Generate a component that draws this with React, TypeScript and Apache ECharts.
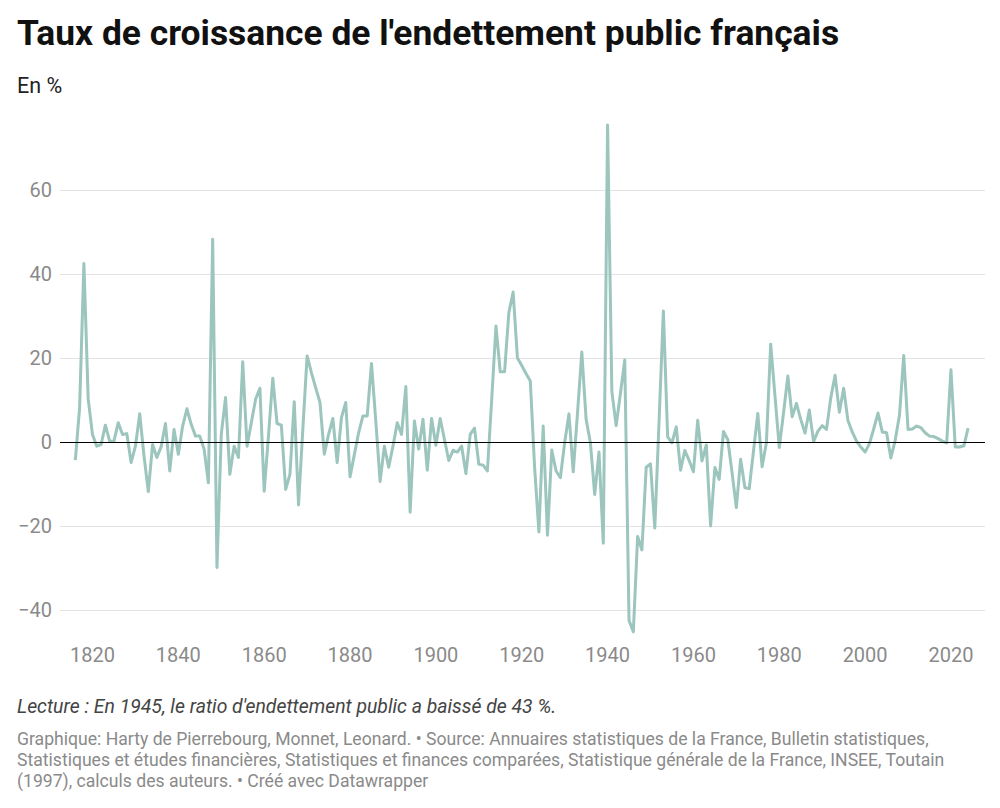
import React, { useEffect, useRef } from "react";
import * as echarts from "echarts";

const title = "Taux de croissance de l'endettement public français";
const subtitle = "En %";
const lecture = "Lecture : En 1945, le ratio d'endettement public a baissé de 43 %.";
const footer = [
  "Graphique: Harty de Pierrebourg, Monnet, Leonard. • Source: Annuaires statistiques de la France, Bulletin statistiques,",
  "Statistiques et études financières, Statistiques et finances comparées, Statistique générale de la France, INSEE, Toutain",
  "(1997), calculs des auteurs. • Créé avec Datawrapper",
];

const firstYear = 1816;
// Yearly growth rate of the public debt ratio, in %
const values1816to1849 = [
  -4.3, 8.2, 42.5, 10.2,
  1.8, -1, -0.6, 4, 0.2, 0.2, 4.6, 1.8, 2, -4.9,
  -1, 6.7, -3.3, -11.8, -0.6, -3.7, -1.1, 4.4, -6.9, 3,
  -2.9, 3.8, 7.9, 4.2, 1.4, 1.4, -1.7, -9.7, 48.3, -29.9,
];
const values1850to1899 = [
  1.8, 10.6, -7.7, -1, -3.7, 19.1, -1, 4.6, 10.2, 12.8,
  -11.7, 1.5, 15.2, 4.4, 4, -11.3, -7.7, 9.6, -15, 3,
  20.5, 16.5, 12.9, 9.4, -2.9, 1.8, 5.6, -4.9, 5.8, 9.4,
  -8.3, -3, 2.2, 6.2, 6.2, 18.7, 5, -9.4, -1, -6,
  -1, 4.6, 1.8, 13.2, -16.7, 5, -1.7, 5.4, -6.7, 5.6,
];
const values1900to1949 = [
  -0.8, 5.6, 0.6, -4.4, -2, -2.4, -1, -7.5, 1.8, 3.3,
  -5.3, -5.5, -6.9, 10, 27.6, 16.7, 16.7, 30.8, 35.7, 20,
  18.2, 16.3, 14.5, -6, -21.4, 3.8, -22.2, -1.9, -6.9, -8.5,
  -0.2, 6.7, -7.1, 7, 21.4, 5.4, -0.2, -12.5, -2.4, -24.1,
  75.5, 12, 3.9, 11.6, 19.5, -42.5, -45.2, -22.5, -25.7, -6,
];
const values1950to1999 = [
  -5.2, -20.5, 5, 31.2, 1.2, -0.2, 3.6, -6.7, -2, -4.4,
  -7.1, 5.2, -4.5, -0.7, -20, -6.1, -8.9, 2.5, 0.6, -7.3,
  -15.6, -4.1, -10.9, -11.1, -2.1, 6.8, -5.9, -0.2, 23.3, 11,
  -1.3, 7, 15.7, 6, 9.2, 5.4, 2.1, 7.6, 0.1, 2.6,
  3.9, 3, 10.5, 15.9, 7.1, 12.8, 5.1, 2.4, 0.2, -1.2,
];
const values2000to2024 = [
  -2.4, -0.4, 3.1, 6.9, 2.4, 2.2, -3.8, 0.4, 6.3, 20.6,
  3, 3.1, 3.8, 3.4, 2.2, 1.4, 1.3, 0.8, 0.2, -0.2,
  17.2, -1.2, -1.2, -0.9, 3.3,
];

const xTickYears = [1820, 1840, 1860, 1880, 1900, 1920, 1940, 1960, 1980, 2000, 2020];
const yTicks = [-40, -20, 0, 20, 40, 60];

const allValues = [
  ...values1816to1849,
  ...values1850to1899,
  ...values1900to1949,
  ...values1950to1999,
  ...values2000to2024,
];
const seriesData = allValues.map((v, i) => [firstYear + i, v]);

const FONT = "Roboto, 'Noto Sans', sans-serif";

export default function App() {
  const ref = useRef<HTMLDivElement>(null);
  useEffect(() => {
    if (!ref.current) return;
    const chart = echarts.init(ref.current, undefined, { renderer: "svg" });
    chart.setOption({
      animation: false,
      backgroundColor: "#ffffff",
      textStyle: { fontFamily: FONT },
      grid: { left: 60, right: 15, top: 190, bottom: 198, containLabel: false },
      xAxis: {
        type: "value",
        min: 1812.43,
        max: 2027.93,
        splitNumber: 10,
        minInterval: 20,
        maxInterval: 20,
        axisLine: { show: false },
        axisTick: { show: false },
        splitLine: { show: false },
        axisLabel: {
          show: true,
          margin: 35,
          color: "#8a8a8a",
          fontSize: 20,
          fontFamily: FONT,
          showMinLabel: false,
          showMaxLabel: false,
          formatter: (v: number) => (xTickYears.includes(Math.round(v)) && Math.abs(v - Math.round(v)) < 1e-6 ? String(Math.round(v)) : ""),
        },
      },
      yAxis: {
        type: "value",
        min: yTicks[0],
        max: yTicks[yTicks.length - 1],
        interval: 20,
        axisLine: { show: false },
        axisTick: { show: false },
        splitLine: { show: true, lineStyle: { color: "#e3e3e3", width: 1 } },
        axisLabel: {
          margin: 8,
          color: "#8a8a8a",
          fontSize: 20,
          fontFamily: FONT,
          formatter: (v: number) => (v < 0 ? "\u2212" + Math.abs(v) : String(v)),
        },
      },
      series: [
        {
          type: "line",
          data: seriesData,
          clip: false,
          showSymbol: false,
          symbol: "none",
          lineStyle: { color: "#9cc5bd", width: 3, join: "round" },
          z: 3,
          markLine: {
            silent: true,
            symbol: "none",
            label: { show: false },
            lineStyle: { color: "#000000", width: 1.2, type: "solid" },
            data: [{ yAxis: 0 }],
            z: 4,
          },
        },
      ],
      graphic: [
        {
          type: "text",
          left: 17,
          top: 15,
          style: { text: title, font: `bold 35.4px ${FONT}`, fill: "#111111" },
        },
        {
          type: "text",
          left: 17,
          top: 74,
          style: { text: subtitle, font: `21.5px ${FONT}`, fill: "#222222" },
        },
        {
          type: "text",
          left: 17,
          top: 697,
          style: { text: lecture, font: `italic 19.4px ${FONT}`, fill: "#444444" },
        },
        {
          type: "text",
          left: 17,
          top: 729,
          style: { text: footer.join("\n"), font: `17.6px ${FONT}`, fill: "#8a8a8a", lineHeight: 20.7 },
        },
      ],
    });
    return () => chart.dispose();
  }, []);
  return (
    <div style={{ position: "fixed", left: 0, top: 0, width: 1000, height: 808, background: "#fff" }}>
      <div ref={ref} style={{ width: 1000, height: 808 }} />
    </div>
  );
}
